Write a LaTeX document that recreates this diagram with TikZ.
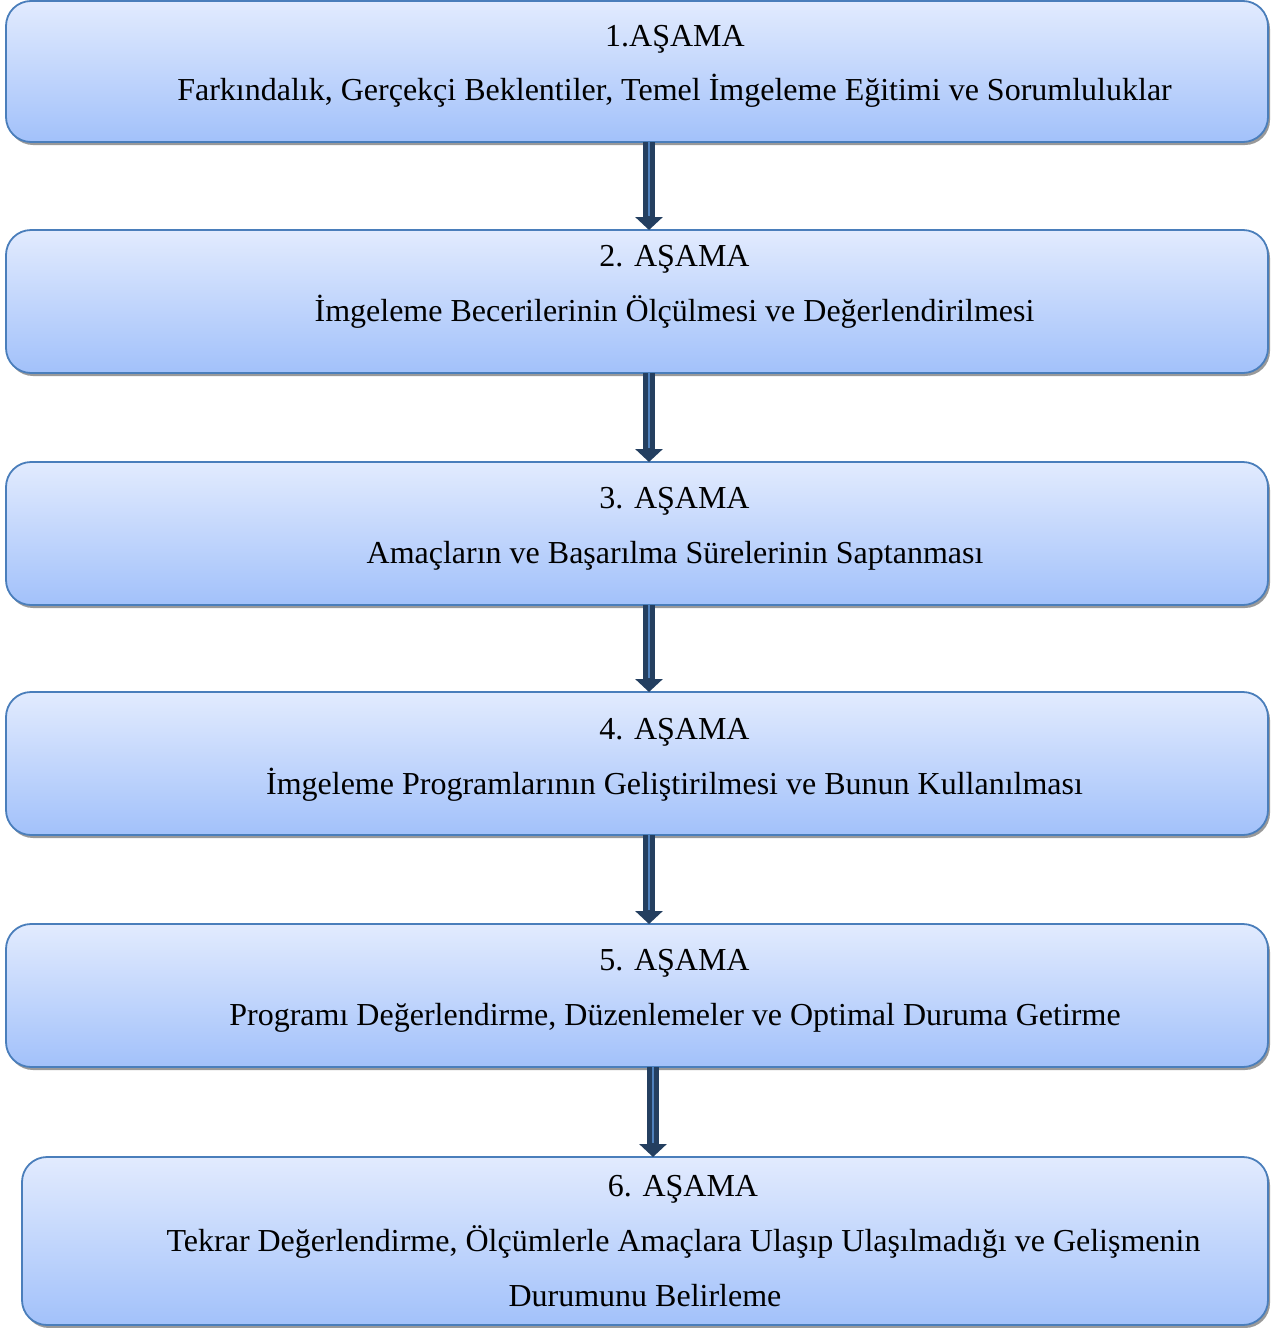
\documentclass[tikz,border=0pt]{standalone}
\usepackage{fontspec}
\setmainfont{Liberation Serif}
\usetikzlibrary{shadows,arrows.meta}
\definecolor{boxtop}{HTML}{E2EBFE}
\definecolor{boxbot}{HTML}{A2C1FA}
\definecolor{boxline}{HTML}{4A7EBB}
\definecolor{arrdark}{HTML}{243F60}
\definecolor{arrlight}{HTML}{4F81BD}
\tikzset{
  stage/.style={rectangle, rounded corners=25pt, draw=boxline, line width=1.8pt,
    top color=boxtop, bottom color=boxbot, inner sep=0pt, outer sep=0pt,
    drop shadow={shadow xshift=2pt, shadow yshift=-3pt, fill=black!40, opacity=1}},
  txt/.style={inner sep=0pt, font=\fontsize{32}{38}\selectfont, anchor=base},
  bigarrow/.style={draw=arrdark, line width=12pt, -{Triangle[width=27pt,length=13pt]}, arrdark},
  stripe/.style={draw=arrlight, line width=2pt, shorten >=14pt}
}
\begin{document}
\begin{tikzpicture}[x=1pt,y=-1pt]
\useasboundingbox (0,0) rectangle (1276,1328);
\node[stage, minimum width=1262pt, minimum height=141pt] (b1) at (637,71.5) {};
\node[stage, minimum width=1262pt, minimum height=143pt] (b2) at (637,301.5) {};
\node[stage, minimum width=1262pt, minimum height=143pt] (b3) at (637,533.5) {};
\node[stage, minimum width=1262pt, minimum height=143pt] (b4) at (637,763.5) {};
\node[stage, minimum width=1262pt, minimum height=143pt] (b5) at (637,995.5) {};
\node[stage, minimum width=1246pt, minimum height=168pt] (b6) at (645,1241) {};

\node[txt] (t1a) at (675,46) {1.AŞAMA};
\node[txt] (t1b) at (674.5,100) {Farkındalık, Gerçekçi Beklentiler, Temel İmgeleme Eğitimi ve Sorumluluklar};
\node[txt] (t2a) at (674.5,266) {2. AŞAMA};
\node[txt] (t2b) at (674.5,321) {İmgeleme Becerilerinin Ölçülmesi ve Değerlendirilmesi};
\node[txt] (t3a) at (674.5,508) {3. AŞAMA};
\node[txt] (t3b) at (675,563) {Amaçların ve Başarılma Sürelerinin Saptanması};
\node[txt] (t4a) at (674.5,739) {4. AŞAMA};
\node[txt] (t4b) at (674.5,794) {İmgeleme Programlarının Geliştirilmesi ve Bunun Kullanılması};
\node[txt] (t5a) at (674.5,970) {5. AŞAMA};
\node[txt] (t5b) at (675,1025) {Programı Değerlendirme, Düzenlemeler ve Optimal Duruma Getirme};
\node[txt] (t6a) at (683,1196) {6. AŞAMA};
\node[txt] (t6b) at (683.5,1251) {Tekrar Değerlendirme, Ölçümlerle Amaçlara Ulaşıp Ulaşılmadığı ve Gelişmenin};
\node[txt] (t6c) at (645,1306) {Durumunu Belirleme};

\foreach \a/\b in {b1/b2,b2/b3,b3/b4,b4/b5}{
  \draw[bigarrow] ([xshift=12pt]\a.south) -- ([xshift=12pt]\b.north);
  \draw[stripe] ([xshift=12pt]\a.south) -- ([xshift=12pt]\b.north);
}
\draw[bigarrow] ([xshift=16pt]b5.south) -- ([xshift=8pt]b6.north);
\draw[stripe] ([xshift=16pt]b5.south) -- ([xshift=8pt]b6.north);
\end{tikzpicture}
\end{document}
